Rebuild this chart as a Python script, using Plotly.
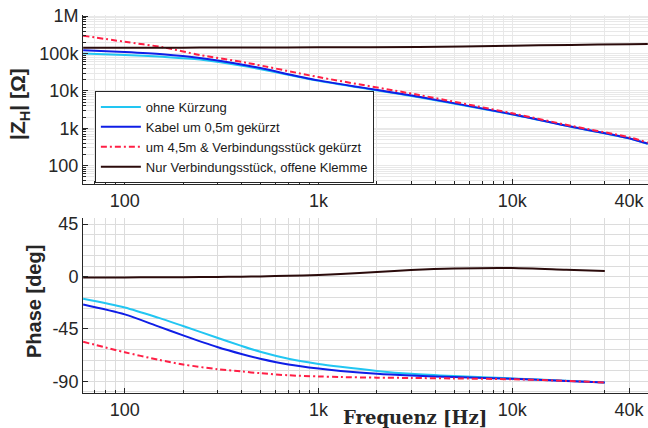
import plotly.graph_objects as go
import numpy as np

# ---------------- data ----------------
series_names = [
    "ohne Kürzung",
    "Kabel um 0,5m gekürzt",
    "um 4,5m & Verbindungsstück gekürzt",
    "Nur Verbindungsstück, offene Klemme",
]

freq_mag = [61, 100, 157, 244, 427, 1000, 3300, 10000, 20000, 40000, 50000]
mag_ohne = [100000, 91200, 81300, 69200, 44700, 18600, 6760, 2340, 1100, 537, 380]
mag_kabel = [123000, 110000, 95500, 75900, 47900, 19100, 6920, 2370, 1110, 543, 389]
mag_um45 = [299000, 206000, 147000, 91200, 56200, 23400, 7760, 2510, 1170, 575, 412]
mag_nur = [143000, 143000, 143000, 144000, 144000, 146000, 150000, 161000, 170000, 178000, 180000]

freq_phase = [61, 100, 150, 200, 300, 400, 500, 700, 1000, 1300, 2000, 3000, 5000, 10000, 19000, 30000]
ph_ohne = [-19, -26.5, -35.5, -42.5, -52.5, -59.5, -64.5, -70.5, -75, -77.5, -81, -83.5, -85.5, -87.5, -89.5, -91]
ph_kabel = [-24, -32.5, -43, -50.5, -60.5, -66.5, -70.5, -75.5, -79, -81, -83.5, -85, -86.3, -87.8, -89.6, -91]
ph_um45 = [-56, -65, -71.5, -75.5, -79.5, -81.5, -83, -84.8, -85.8, -86.3, -86.8, -87.1, -87.5, -88.2, -89.6, -91]
ph_nur = [-0.7, -0.7, -0.6, -0.5, -0.3, -0.1, 0.1, 0.7, 1.4, 2.2, 4.0, 5.6, 6.9, 7.3, 5.8, 4.7]

x_tickvals = [100, 1000, 10000, 40000]
x_ticktext = ["100", "1k", "10k", "40k"]
mag_tickvals = [100, 1000, 10000, 100000, 1000000]
mag_ticktext = ["100", "1k", "10k", "100k", "1M"]
ph_tickvals = [-90, -45, 0, 45]
ph_ticktext = ["-90", "-45", "0", "45"]

# ---------------- styles ----------------
colors = ["#22c6f2", "#0f1ee6", "#ff1f45", "#2b0b0b"]
dashes = ["solid", "solid", "6px,3px,2px,3px", "solid"]
LW = 2.0
AXC = "#262626"
GRID = "#dcdcdc"
MGRID = "#e8e8e8"
FONT = "Liberation Sans"
TICKSIZE = 18

fig = go.Figure()
mags = [mag_ohne, mag_kabel, mag_um45, mag_nur]
phs = [ph_ohne, ph_kabel, ph_um45, ph_nur]
for i in range(4):
    fig.add_trace(go.Scatter(
        x=freq_mag, y=mags[i], mode="lines", name=series_names[i],
        line=dict(color=colors[i], width=LW, dash=dashes[i], shape="spline", smoothing=0.8),
        xaxis="x", yaxis="y", showlegend=True))
for i in range(4):
    fig.add_trace(go.Scatter(
        x=freq_phase, y=phs[i], mode="lines", name=series_names[i],
        line=dict(color=colors[i], width=LW, dash=dashes[i], shape="spline", smoothing=0.8),
        xaxis="x2", yaxis="y2", showlegend=False))

# minor tick positions
x_minor = [m * 10 ** d for d in range(1, 5) for m in range(2, 10)]
y_minor = [m * 10 ** d for d in range(1, 6) for m in range(2, 10)]

xr = [np.log10(60.9), 4.7]

def xaxis_def(anchor, gridc):
    return dict(
        type="log", range=xr, anchor=anchor, domain=[0, 1], automargin=False,
        tickmode="array", tickvals=x_tickvals, ticktext=x_ticktext,
        ticks="inside", ticklen=5, tickwidth=1, tickcolor=AXC,
        showline=True, linecolor=AXC, linewidth=1, mirror=False,
        showgrid=True, gridcolor=gridc, gridwidth=1,
        minor=dict(tickmode="array", tickvals=x_minor, ticks="inside", ticklen=3,
                   tickcolor=AXC, showgrid=True, gridcolor=gridc, gridwidth=1),
        tickfont=dict(family=FONT, size=TICKSIZE, color=AXC),
        zeroline=False,
    )

fig.update_layout(
    width=648, height=428,
    margin=dict(l=83, r=0, t=15, b=35),
    paper_bgcolor="white", plot_bgcolor="white",
    font=dict(family=FONT, color=AXC),
    xaxis=xaxis_def("y", MGRID),
    xaxis2=xaxis_def("y2", GRID),
    yaxis=dict(
        type="log", range=[1.51, 6.03], domain=[0.553, 1], anchor="x", automargin=False,
        tickmode="array", tickvals=mag_tickvals, ticktext=mag_ticktext,
        ticks="inside", ticklen=5, tickcolor=AXC,
        showline=True, linecolor=AXC, linewidth=1,
        showgrid=True, gridcolor=MGRID,
        minor=dict(tickmode="array", tickvals=y_minor, ticks="inside", ticklen=3,
                   tickcolor=AXC, showgrid=True, gridcolor=MGRID),
        tickfont=dict(family=FONT, size=TICKSIZE, color=AXC), zeroline=False,
    ),
    yaxis2=dict(
        range=[-100, 50], domain=[0, 0.462], anchor="x2", automargin=False,
        tickmode="array", tickvals=ph_tickvals, ticktext=ph_ticktext,
        ticks="inside", ticklen=5, tickcolor=AXC,
        showline=True, linecolor=AXC, linewidth=1,
        showgrid=True, gridcolor=GRID,
        minor=dict(dtick=9, tick0=0, ticks="", showgrid=True, gridcolor=GRID),
        tickfont=dict(family=FONT, size=TICKSIZE, color=AXC), zeroline=False,
    ),
    legend=dict(
        x=0.021, y=0.799, xanchor="left", yanchor="top",
        bgcolor="white", bordercolor=AXC, borderwidth=1,
        font=dict(family=FONT, size=13, color="#1a1a1a"),
        tracegroupgap=0, itemwidth=40,
    ),
    annotations=[
        dict(text="<b>|Z<sub>H</sub>| [Ω]</b>", xref="paper", yref="paper",
             x=-0.113, y=0.765, xanchor="center", yanchor="middle", textangle=-90,
             showarrow=False, font=dict(family=FONT, size=21, color=AXC)),
        dict(text="<b>Phase [deg]</b>", xref="paper", yref="paper",
             x=-0.087, y=0.243, xanchor="center", yanchor="middle", textangle=-90,
             showarrow=False, font=dict(family=FONT, size=20, color=AXC)),
        dict(text="<b>Frequenz [Hz]</b>", xref="paper", yref="paper",
             x=0.588, y=-0.066, xanchor="center", yanchor="middle",
             showarrow=False, font=dict(family="DejaVu Serif", size=18, color=AXC)),
    ],
)

fig.write_html("out.html", config={"displayModeBar": False},
               post_script="document.body.style.margin='0px';document.body.style.overflow='hidden';")
